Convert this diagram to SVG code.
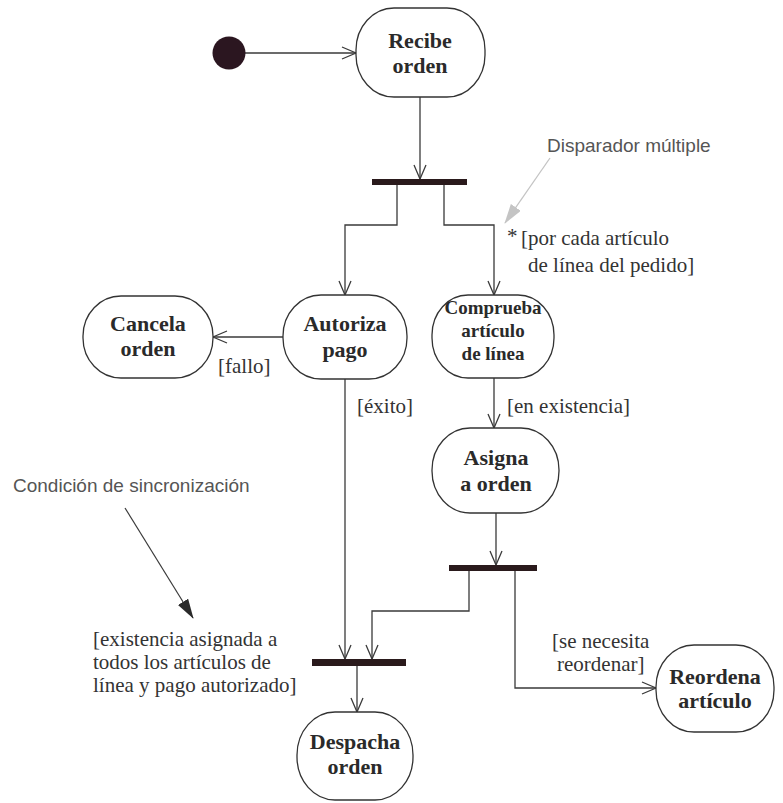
<svg xmlns="http://www.w3.org/2000/svg" width="783" height="803" viewBox="0 0 783 803">
  <defs>
    <style>
      .act { fill: #ffffff; stroke: #333333; stroke-width: 1.3; }
      .lbl { font-family: "Liberation Serif", "Times New Roman", serif; font-weight: bold; font-size: 22px; fill: #2a2a2a; text-anchor: middle; }
      .lbl-s { font-size: 19px; }
      .guard { font-family: "Liberation Serif", "Times New Roman", serif; font-size: 21px; fill: #333333; }
      .note { font-family: "Liberation Sans", Arial, sans-serif; font-size: 19px; fill: #555555; }
      .flow { fill: none; stroke: #3a3a3a; stroke-width: 1.3; marker-end: url(#open); }
      .bar { fill: #2a1a1c; }
    </style>
    <marker id="open" viewBox="0 0 16 14" refX="15" refY="7" markerWidth="16" markerHeight="14" markerUnits="userSpaceOnUse" orient="auto">
      <path d="M1,1 L15,7 L1,13" fill="none" stroke="#3a3a3a" stroke-width="1.3"/>
    </marker>
    <marker id="solidDark" viewBox="0 0 20 12" refX="19" refY="6" markerWidth="20" markerHeight="12" markerUnits="userSpaceOnUse" orient="auto">
      <path d="M0,0 L20,6 L0,12 Z" fill="#2a2a2a"/>
    </marker>
    <marker id="solidLight" viewBox="0 0 20 12" refX="19" refY="6" markerWidth="20" markerHeight="12" markerUnits="userSpaceOnUse" orient="auto">
      <path d="M0,0 L20,6 L0,12 Z" fill="#c4c4c4"/>
    </marker>
  </defs>

  <rect width="783" height="803" fill="#ffffff"/>

  <!-- control flows -->
  <g id="connectors">
    <path class="flow" d="M245,53 L356,53"/>
    <path class="flow" d="M420,97 L420,179"/>
    <path class="flow" d="M397,185 L397,225 L345,225 L345,295"/>
    <path class="flow" d="M444,185 L444,225 L494,225 L494,295"/>
    <path class="flow" d="M283,337 L213,337"/>
    <path class="flow" d="M345,379 L345,659"/>
    <path class="flow" d="M494,378 L494,428"/>
    <path class="flow" d="M496,513 L496,565"/>
    <path class="flow" d="M469,571 L469,611 L372,611 L372,659"/>
    <path class="flow" d="M515,571 L515,688 L656,688"/>
    <path class="flow" d="M357,666 L357,712"/>
  </g>

  <!-- synchronisation bars -->
  <g id="fork1"><rect class="bar" x="372" y="179" width="95" height="6"/></g>
  <g id="fork2"><rect class="bar" x="449" y="565" width="88" height="6"/></g>
  <g id="join"><rect class="bar" x="312" y="659" width="94" height="7"/></g>

  <!-- start -->
  <g id="start"><circle cx="229" cy="53" r="16.5" fill="#2b1620"/></g>

  <!-- activities -->
  <g id="recibe">
    <rect class="act" x="356" y="8" width="129" height="89" rx="38" ry="42"/>
    <text class="lbl" x="420" y="48">Recibe</text>
    <text class="lbl" x="420" y="73">orden</text>
  </g>
  <g id="cancela">
    <rect class="act" x="83" y="296" width="130" height="82" rx="38" ry="40"/>
    <text class="lbl" x="148" y="331">Cancela</text>
    <text class="lbl" x="148" y="356">orden</text>
  </g>
  <g id="autoriza">
    <rect class="act" x="283" y="295" width="124" height="84" rx="38" ry="41"/>
    <text class="lbl" x="345" y="331">Autoriza</text>
    <text class="lbl" x="345" y="357">pago</text>
  </g>
  <g id="comprueba">
    <rect class="act" x="432" y="295" width="122" height="83" rx="36" ry="40"/>
    <text class="lbl lbl-s" x="493" y="314">Comprueba</text>
    <text class="lbl lbl-s" x="493" y="337">artículo</text>
    <text class="lbl lbl-s" x="493" y="360">de línea</text>
  </g>
  <g id="asigna">
    <rect class="act" x="432" y="428" width="127" height="85" rx="38" ry="42"/>
    <text class="lbl" x="496" y="465">Asigna</text>
    <text class="lbl" x="496" y="491">a orden</text>
  </g>
  <g id="despacha">
    <rect class="act" x="297" y="712" width="116" height="88" rx="38" ry="43"/>
    <text class="lbl" x="355" y="749">Despacha</text>
    <text class="lbl" x="355" y="774">orden</text>
  </g>
  <g id="reordena">
    <rect class="act" x="656" y="645" width="118" height="87" rx="38" ry="42"/>
    <text class="lbl" x="715" y="684">Reordena</text>
    <text class="lbl" x="715" y="708">artículo</text>
  </g>

  <!-- guards -->
  <g id="guards">
    <text class="guard" x="507" y="243" font-size="16">*</text>
    <text class="guard" x="521" y="245">[por cada artículo</text>
    <text class="guard" x="528" y="272">de línea del pedido]</text>
    <text class="guard" x="218" y="373">[fallo]</text>
    <text class="guard" x="357" y="413">[éxito]</text>
    <text class="guard" x="507" y="413">[en existencia]</text>
    <text class="guard" x="552" y="648">[se necesita</text>
    <text class="guard" x="557" y="671">reordenar]</text>
    <text class="guard" x="93" y="646">[existencia asignada a</text>
    <text class="guard" x="93" y="669">todos los artículos de</text>
    <text class="guard" x="93" y="692">línea y pago autorizado]</text>
  </g>

  <!-- annotations -->
  <g id="note-disparador">
    <text class="note" x="547" y="152">Disparador múltiple</text>
    <line x1="550" y1="158" x2="505" y2="223" stroke="#c4c4c4" stroke-width="1.3" marker-end="url(#solidLight)"/>
  </g>
  <g id="note-sincronizacion">
    <text class="note" x="13" y="492">Condición de sincronización</text>
    <line x1="125" y1="508" x2="193" y2="618" stroke="#3a3a3a" stroke-width="1.2" marker-end="url(#solidDark)"/>
  </g>
</svg>
